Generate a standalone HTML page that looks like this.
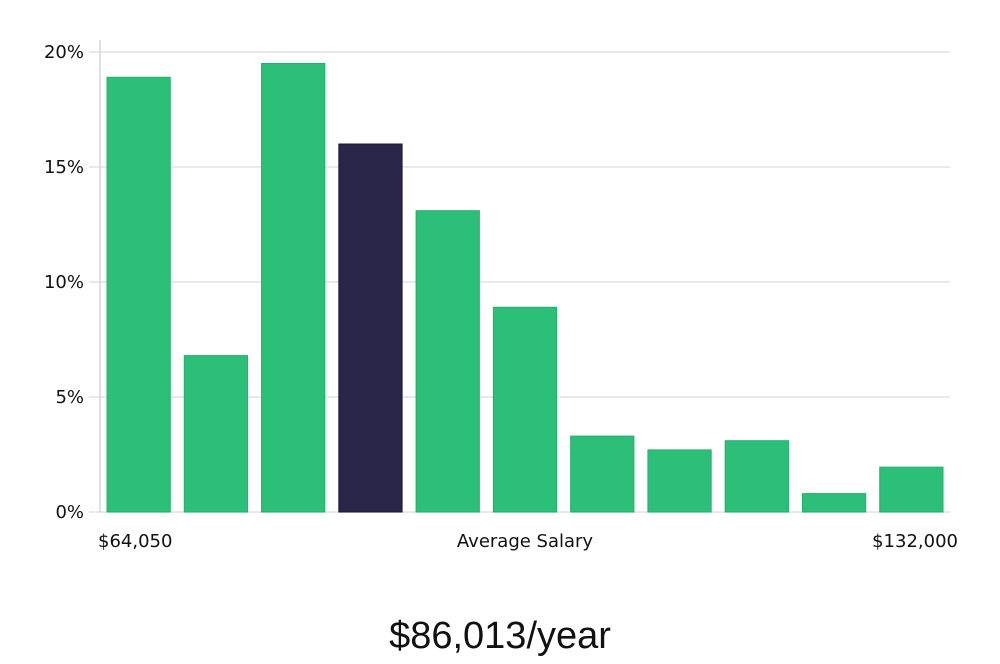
<!DOCTYPE html>
<html><head><meta charset="utf-8"><style>
body{margin:0;background:#fff;width:1000px;height:660px;overflow:hidden;font-family:"DejaVu Sans","Liberation Sans",sans-serif;}
svg text{fill:#111;}
</style></head><body>
<svg id="chart" width="1000" height="660" xmlns="http://www.w3.org/2000/svg">
<g id="grid"></g><g id="bars"></g><g id="labels"></g>
<text x="98" y="547" font-size="18">$64,050</text>
<text x="525" y="547" font-size="18" text-anchor="middle">Average Salary</text>
<text x="958" y="547" font-size="18" text-anchor="end">$132,000</text>
<text x="500" y="648" font-size="38" text-anchor="middle" font-family="Liberation Sans, sans-serif" style="font-weight:300">$86,013/year</text>
</svg>
<script>
const values=[18.9,6.8,19.5,16.0,13.1,8.9,3.3,2.7,3.1,0.8,1.95];
const highlightIndex=[3];
const yTicks=[0,5,10,15,20];
const yTickLabels=["0%","5%","10%","15%","20%"];
const NS="http://www.w3.org/2000/svg";
const x0=100,x1=950,yBase=512,yTop=52,yMax=20;
const y=v=>yBase-(v/yMax)*(yBase-yTop);
const step=(x1-x0)/values.length;
const grid=document.getElementById('grid');
function mk(t,a,p){const e=document.createElementNS(NS,t);for(const k in a)e.setAttribute(k,a[k]);p.appendChild(e);return e;}
yTicks.forEach((t,i)=>{
 const l=mk('line',{x1:89,x2:x1,y1:y(t),y2:y(t),stroke:'#e2e2e2','stroke-width':1.5},grid);
 
 
 const tx=mk('text',{x:84,y:y(t)+6,'font-size':18,'text-anchor':'end'},grid);
 tx.textContent=yTickLabels[i];
 
 
});
const ax=mk('line',{x1:x0,x2:x0,y1:40,y2:yBase,stroke:'#d6d6d6','stroke-width':1.5},grid);


const bars=document.getElementById('bars');
values.forEach((v,i)=>{
 const hl=highlightIndex.includes(i);
 const r=mk('rect',{x:x0+i*step+7,y:y(v),width:step-14,height:yBase-y(v),fill:hl?'#2a2649':'#2bbf77',stroke:hl?'#1c1838':'#25b06c','stroke-width':1},bars);
 
 
});
</script>
</body></html>
